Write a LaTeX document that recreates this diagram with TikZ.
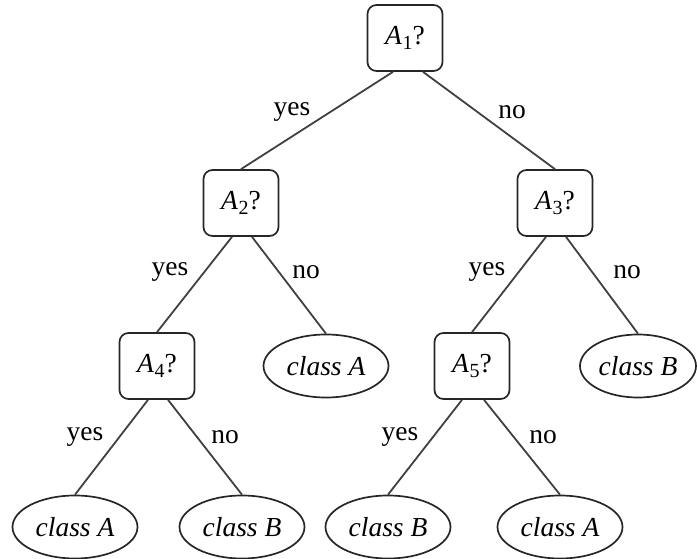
\documentclass[tikz,border=0pt]{standalone}
\usepackage{fontspec}
\setmainfont{Liberation Serif}
\usetikzlibrary{shapes.geometric}
% attribute test label: italic A with a lowered index and a question mark
\newcommand\attrq[1]{\textit{A}\kern0.02em\raisebox{-0.4ex}{\fontsize{20}{20}\selectfont #1}?}
\begin{document}
\begin{tikzpicture}[x=1pt,y=-1pt,
  font=\fontsize{27.5}{31}\selectfont,
  test/.style={draw=black!85, line width=1.7pt, rounded corners=9pt, minimum width=75pt, minimum height=66pt, inner sep=0pt},
  leaf/.style={draw=black!85, line width=1.7pt, ellipse, minimum width=125pt, minimum height=63pt, inner sep=0pt, font=\fontsize{27.5}{31}\selectfont\itshape},
  branch/.style={line width=1.8pt, draw=black!75},
  answer/.style={inner sep=0pt}]
\useasboundingbox (0,0) rectangle (697,559);

% decision nodes
\node[test] (a1) at (405,38) {\attrq{1}};
\node[test] (a2) at (241,203) {\attrq{2}};
\node[test] (a3) at (555,203) {\attrq{3}};
\node[test] (a4) at (157,366) {\attrq{4}};
\node[test] (a5) at (472,366) {\attrq{5}};

% leaves
\node[leaf] (l2) at (326,366) {class A};
\node[leaf, minimum width=116pt] (l3) at (638,366) {class B};
\node[leaf] (l4y) at (75,527) {class A};
\node[leaf] (l4n) at (242,527) {class B};
\node[leaf] (l5y) at (388,527) {class B};
\node[leaf] (l5n) at (560,527) {class A};

% branches
\draw[branch] ([xshift=-12pt]a1.south) -- (a2.north);
\draw[branch] ([xshift=18pt]a1.south) -- (a3.north);
\draw[branch] ([xshift=-9pt]a2.south) -- (a4.north);
\draw[branch] ([xshift=11pt]a2.south) -- (l2.north);
\draw[branch] ([xshift=-9pt]a3.south) -- (a5.north);
\draw[branch] ([xshift=11pt]a3.south) -- (l3.north);
\draw[branch] ([xshift=-9pt]a4.south) -- (l4y.north);
\draw[branch] ([xshift=11pt]a4.south) -- (l4n.north);
\draw[branch] ([xshift=-10pt]a5.south) -- (l5y.north);
\draw[branch] ([xshift=12pt]a5.south) -- (l5n.north);

% branch answers
\node[answer] (t1y) at (292,112) {yes};
\node[answer] (t1n) at (512,112) {no};
\node[answer] (t2y) at (170,272) {yes};
\node[answer] (t2n) at (306,272) {no};
\node[answer] (t3y) at (487,272) {yes};
\node[answer] (t3n) at (627,272) {no};
\node[answer] (t4y) at (85,437) {yes};
\node[answer] (t4n) at (225,437) {no};
\node[answer] (t5y) at (400,437) {yes};
\node[answer] (t5n) at (543,437) {no};
\end{tikzpicture}
\end{document}
